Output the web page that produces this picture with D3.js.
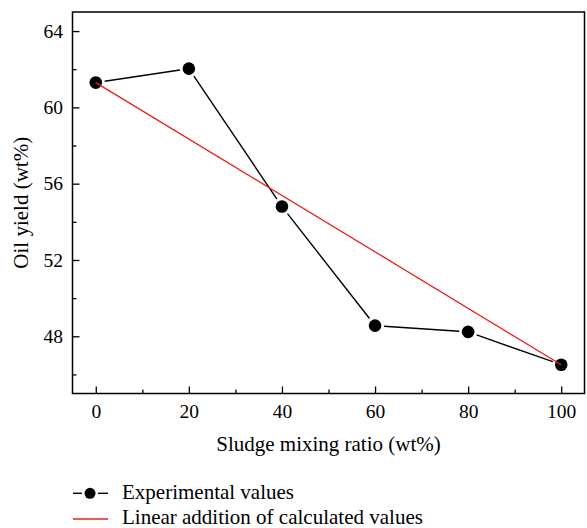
<!DOCTYPE html>
<html><head><meta charset="utf-8">
<script src="https://cdn.jsdelivr.net/npm/d3@7"></script>
<style>
html,body{margin:0;padding:0;background:#fff;}
svg text{font-family:"Liberation Serif","DejaVu Serif",serif;fill:#000;}
</style></head>
<body>
<svg id="c" width="587" height="528"></svg>
<script>
const ratios = [0, 20, 40, 60, 80, 100];
const experimental = [61.3, 62.03, 54.8, 48.56, 48.23, 46.51];
const linearAddition = [61.3, 46.51];
const linearX = [0, 100];
const xTicks = [0, 20, 40, 60, 80, 100];
const xMinor = [10, 30, 50, 70, 90];
const yTicks = [48, 52, 56, 60, 64];
const yMinor = [46, 50, 54, 58, 62];
const xTitle = "Sludge mixing ratio (wt%)";
const yTitle = "Oil yield (wt%)";
const legendLabels = ["Experimental values", "Linear addition of calculated values"];

const FONT = "Liberation Serif, DejaVu Serif, serif";
const svg = d3.select("#c");
const L = 72.5, R = 584.5, T = 12, B = 393.5;
const x = d3.scaleLinear().domain([-5, 105]).range([L, R]);
const y = d3.scaleLinear().domain([45, 65]).range([B, T]);

// axes (ticks point inward)
const gx = svg.append("g").attr("transform", `translate(0,${B})`)
  .call(d3.axisBottom(x).tickValues(xTicks).tickSize(-7).tickPadding(10.5).tickFormat(d3.format("d")));
const gxm = svg.append("g").attr("transform", `translate(0,${B})`)
  .call(d3.axisBottom(x).tickValues(xMinor).tickSize(-4).tickFormat(""));
const gy = svg.append("g").attr("transform", `translate(${L},0)`)
  .call(d3.axisLeft(y).tickValues(yTicks).tickSize(-7).tickPadding(9.5).tickFormat(d3.format("d")));
const gym = svg.append("g").attr("transform", `translate(${L},0)`)
  .call(d3.axisLeft(y).tickValues(yMinor).tickSize(-4).tickFormat(""));
[gx, gxm, gy, gym].forEach(g => {
  g.attr("font-family", FONT).attr("font-size", 19.5);
  g.select(".domain").remove();
  g.selectAll("line").attr("stroke", "#000").attr("stroke-width", 1.3);
  g.selectAll("text").attr("font-family", FONT).attr("font-size", 19.5).attr("fill", "#000");
});

// frame
svg.append("rect").attr("x", L).attr("y", T).attr("width", R - L).attr("height", B - T)
  .attr("fill", "none").attr("stroke", "#000").attr("stroke-width", 1.5);

// experimental line with gaps around markers
const gap = 9;
const pts = ratios.map((r, i) => [x(r), y(experimental[i])]);
for (let i = 0; i < pts.length - 1; i++) {
  const [x1, y1] = pts[i], [x2, y2] = pts[i + 1];
  const dx = x2 - x1, dy = y2 - y1, len = Math.hypot(dx, dy);
  const ux = dx / len, uy = dy / len;
  svg.append("line")
    .attr("x1", x1 + ux * gap).attr("y1", y1 + uy * gap)
    .attr("x2", x2 - ux * gap).attr("y2", y2 - uy * gap)
    .attr("stroke", "#000").attr("stroke-width", 1.4);
}
svg.selectAll("circle.m").data(pts).join("circle").attr("class", "m")
  .attr("cx", d => d[0]).attr("cy", d => d[1]).attr("r", 6.3).attr("fill", "#000");

// linear addition line
svg.append("path")
  .datum(linearX.map((r, i) => [r, linearAddition[i]]))
  .attr("d", d3.line().x(d => x(d[0])).y(d => y(d[1])))
  .attr("fill", "none").attr("stroke", "#e8201c").attr("stroke-width", 1.3);

// titles
svg.append("text").attr("x", 328.5).attr("y", 451).attr("text-anchor", "middle")
  .attr("font-family", FONT).attr("font-size", 21).text(xTitle);
svg.append("text").attr("transform", `translate(28,${(T + B) / 2}) rotate(-90)`).attr("text-anchor", "middle")
  .attr("font-family", FONT).attr("font-size", 21).text(yTitle);

// legend
const lg = svg.append("g");
lg.append("line").attr("x1", 73).attr("x2", 82).attr("y1", 493.3).attr("y2", 493.3).attr("stroke", "#000").attr("stroke-width", 1.4);
lg.append("line").attr("x1", 98).attr("x2", 108).attr("y1", 493.3).attr("y2", 493.3).attr("stroke", "#000").attr("stroke-width", 1.4);
lg.append("circle").attr("cx", 90).attr("cy", 493.3).attr("r", 5.5).attr("fill", "#000");
lg.append("line").attr("x1", 73).attr("x2", 108).attr("y1", 519).attr("y2", 519).attr("stroke", "#e8201c").attr("stroke-width", 1.3);
lg.selectAll("text.l").data(legendLabels).join("text").attr("class", "l")
  .attr("x", 122).attr("y", (d, i) => 498.5 + i * 25.5).attr("font-family", FONT).attr("font-size", 21).text(d => d);
</script>
</body></html>
